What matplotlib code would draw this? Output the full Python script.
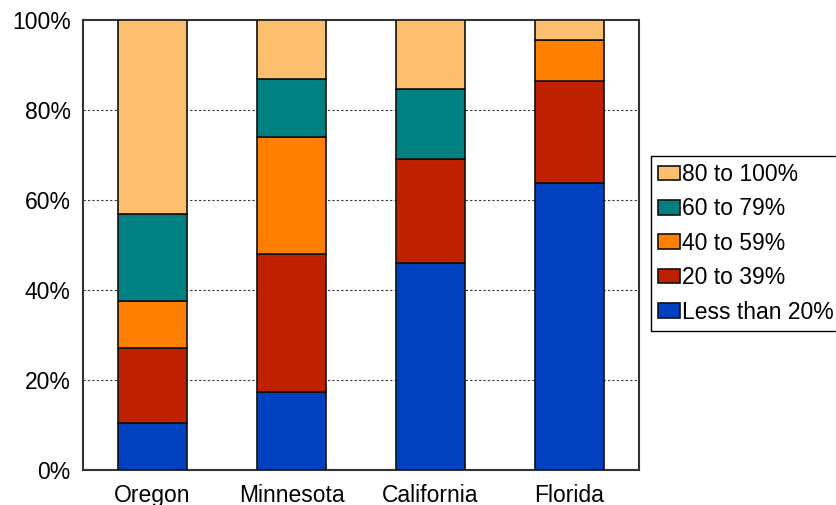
import matplotlib
matplotlib.use("Agg")
import matplotlib.pyplot as plt
import numpy as np

plt.rcParams['font.family'] = ['Liberation Sans', 'DejaVu Sans']

states = ["Oregon", "Minnesota", "California", "Florida"]
series_names = ["Less than 20%", "20 to 39%", "40 to 59%", "60 to 79%", "80 to 100%"]
less_than_20 = [10.5, 17.3, 46.0, 63.7]
from_20_to_39 = [16.6, 30.6, 23.2, 22.7]
from_40_to_59 = [10.5, 26.1, 0.0, 9.2]
from_60_to_79 = [19.4, 13.0, 15.4, 0.0]
from_80_to_100 = [43.0, 13.0, 15.4, 4.4]
y_ticks = [0, 20, 40, 60, 80, 100]
y_tick_labels = ["0%", "20%", "40%", "60%", "80%", "100%"]

colors = ["#0041BF", "#BF2000", "#FF8000", "#008080", "#FDBF6E"]
series = [less_than_20, from_20_to_39, from_40_to_59, from_60_to_79, from_80_to_100]

fig = plt.figure(figsize=(8.36, 5.05), dpi=100)
ax = fig.add_axes([83 / 836, 1 - 470 / 505, 556 / 836, 450 / 505])

x = np.arange(len(states))
bottom = np.zeros(len(states))
handles = []
for name, vals, col in zip(series_names, series, colors):
    vals = np.array(vals)
    b = ax.bar(x, vals, width=0.5, bottom=bottom, color=col,
               edgecolor="#111111", linewidth=1.2, label=name, zorder=3)
    handles.append(b)
    bottom += vals

ax.set_xlim(-0.5, 3.5)
ax.set_ylim(0, 100)
ax.set_xticks(x)
ax.set_xticklabels(states)
ax.set_yticks(y_ticks)
ax.set_yticklabels(y_tick_labels)
ax.tick_params(axis="both", length=0, labelsize=16.5, colors="black")
ax.tick_params(axis="y", pad=9)
ax.tick_params(axis="x", pad=10)

for v in y_ticks[1:-1]:
    ax.axhline(v, color="#333333", linestyle=(0, (2, 2)), linewidth=0.8, zorder=1)

for sp in ax.spines.values():
    sp.set_color("#333333")
    sp.set_linewidth(1.5)

leg = fig.legend(handles[::-1], series_names[::-1], loc="upper left",
                 bbox_to_anchor=(651 / 836, 1 - 156 / 505),
                 bbox_transform=fig.transFigure,
                 fontsize=16.5, frameon=True, fancybox=False, framealpha=1,
                 edgecolor="black", handlelength=0.95, handleheight=0.6,
                 handletextpad=0.12, labelspacing=0.5, borderpad=0.3,
                 borderaxespad=0)
leg.get_frame().set_linewidth(1.0)

fig.savefig("out.png", dpi=100)
